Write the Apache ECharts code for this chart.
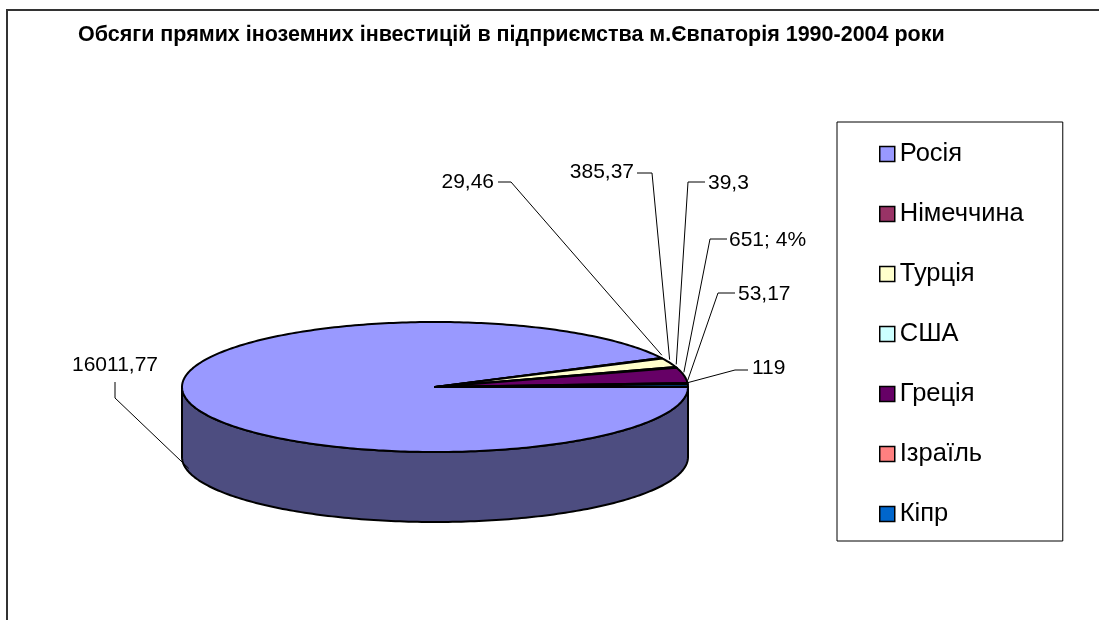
<!DOCTYPE html>
<html>
<head>
<meta charset="utf-8">
<title>Інвестиції Євпаторія</title>
<script src="https://cdn.jsdelivr.net/npm/echarts@6/dist/echarts.min.js"></script>
<style>
  html, body { margin: 0; padding: 0; background: #fff; }
  #container { width: 1099px; height: 620px; }
</style>
</head>
<body>
<div id="container"></div>
<script>
// дані діаграми
var countries = ['Росія', 'Німеччина', 'Турція', 'США', 'Греція', 'Ізраїль', 'Кіпр'];
var values = [16011.77, 29.46, 385.37, 39.3, 651, 53.17, 119];
var colors = ['#9999FF', '#993366', '#FFFFCC', '#CCFFFF', '#660066', '#FF8080', '#0066CC'];
var withPercent = ['Греція']; // підпис зі значенням і часткою
var chartTitle = 'Обсяги прямих іноземних інвестицій в підприємства м.Євпаторія 1990-2004 роки';

// геометрія об'ємного круга
var cx = 435, cy = 387, rx = 253, ry = 65, depth = 70;
var firstAngle = 90; // кут першого сектора, за годинниковою від 12 год

// куди винесено підписи (текст + злам лінії-виноски)
var labelLayout = [
	{ x: 115, y: 365, align: 'center', line: [[115, 382], [115, 398]] },
	{ x: 494, y: 182, align: 'right', line: [[498, 182], [511, 182]] },
	{ x: 634, y: 172, align: 'right', line: [[637, 173], [652, 173]] },
	{ x: 708, y: 183, align: 'left', line: [[705, 182], [688, 182]] },
	{ x: 729, y: 240, align: 'left', line: [[727, 239], [710, 239]] },
	{ x: 738, y: 294, align: 'left', line: [[735, 293], [718, 293]] },
	{ x: 752, y: 368, align: 'left', line: [[748, 370], [735, 370]] }
];

var total = 0, starts = [];
for (var i = 0; i < values.length; i++) {
	starts.push(total);
	total += values[i];
}

function pt(a, dy) {
	var r = a * Math.PI / 180;
	return [cx + rx * Math.sin(r), cy - ry * Math.cos(r) + (dy || 0)];
}
function arc(a1, a2, dy) {
	var pts = [], n = Math.max(2, Math.ceil(a2 - a1) + 1);
	for (var k = 0; k < n; k++) pts.push(pt(a1 + (a2 - a1) * k / (n - 1), dy));
	return pts;
}
// темніший відтінок для бічної стінки
function shade(hex) {
	var n = parseInt(hex.slice(1), 16);
	var r = (n >> 16) & 255, g = (n >> 8) & 255, b = n & 255;
	return 'rgb(' + Math.round(r * 0.5) + ',' + Math.round(g * 0.5) + ',' + Math.round(b * 0.5) + ')';
}
function fmt(v) {
	return String(v).replace('.', ',');
}

function renderSlice(i) {
	return function (params, api) {
		var a1 = firstAngle + api.value(0) / total * 360;
		var a2 = a1 + api.value(1) / total * 360;
		var children = [];
		// бічна стінка видна лише спереду (90..270 град)
		[[90, 270], [450, 630]].forEach(function (fr) {
			var s = Math.max(a1, fr[0]), e = Math.min(a2, fr[1]);
			if (e > s) {
				children.push({
					type: 'polygon', z2: 1,
					shape: { points: arc(s, e, 0).concat(arc(s, e, depth).reverse()) },
					style: { fill: shade(colors[i]), stroke: '#000', lineWidth: 2, lineJoin: 'round' }
				});
			}
		});
		// верх сектора
		children.push({
			type: 'polygon', z2: 2,
			shape: { points: [[cx, cy]].concat(arc(a1, a2, 0)) },
			style: { fill: colors[i], stroke: '#000', lineWidth: 2, lineJoin: 'round' }
		});
		// виноска
		var mid = (a1 + a2) / 2, m = mid % 360;
		var anchor = (m > 90 && m < 270) ? pt(mid, depth * 0.95) : pt(mid, -3);
		var lay = labelLayout[i];
		children.push({
			type: 'polyline', z2: 3,
			shape: { points: lay.line.concat([anchor]) },
			style: { stroke: '#000', lineWidth: 1, fill: null }
		});
		var txt = fmt(api.value(1));
		if (withPercent.indexOf(countries[i]) >= 0) {
			txt += '; ' + Math.round(api.value(1) / total * 100) + '%';
		}
		children.push({
			type: 'text', z2: 4,
			style: {
				text: txt, x: lay.x, y: lay.y, align: lay.align, verticalAlign: 'middle',
				fontFamily: 'Arial, "Liberation Sans"', fontSize: 21, fill: '#000'
			}
		});
		return { type: 'group', children: children };
	};
}

var myChart = echarts.init(document.getElementById('container'));
var series = [];
for (var j = 0; j < countries.length; j++) {
	series.push({
		type: 'custom',
		name: countries[j],
		coordinateSystem: 'none',
		silent: true,
		itemStyle: { color: colors[j] },
		data: [[starts[j], values[j]]],
		renderItem: renderSlice(j)
	});
}

var option = {
	animation: false,
	title: {
		text: chartTitle,
		left: 78, top: 24,
		padding: 0,
		textStyle: { fontFamily: 'Arial, "Liberation Sans"', fontSize: 21.5, fontWeight: 'bold', color: '#000' }
	},
	legend: {
		orient: 'vertical',
		left: 837, top: 122,
		padding: [19, 39, 14, 42],
		itemGap: 34,
		itemWidth: 15, itemHeight: 15,
		icon: 'rect',
		selectedMode: false,
		borderColor: '#000', borderWidth: 1,
		itemStyle: { borderColor: '#000', borderWidth: 1.5 },
		textStyle: { fontFamily: 'Arial, "Liberation Sans"', fontSize: 25.5, color: '#000' },
		data: countries
	},
	graphic: [{
		type: 'rect', z: -1, silent: true,
		shape: { x: 7, y: 10, width: 1200, height: 700 },
		style: { fill: null, stroke: '#333', lineWidth: 2 }
	}],
	series: series
};
myChart.setOption(option);
</script>
</body>
</html>
